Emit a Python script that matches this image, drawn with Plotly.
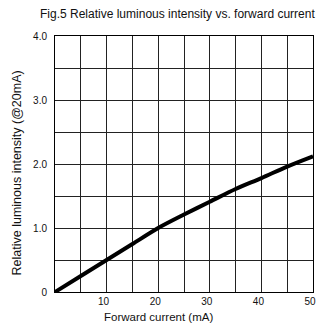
import plotly.graph_objects as go

current_ma = [0, 5, 10, 15, 20, 25, 30, 35, 40, 45, 50]
rel_intensity = [0, 0.25, 0.5, 0.75, 1.0, 1.21, 1.41, 1.61, 1.78, 1.96, 2.12]

x_tickvals = [0, 5, 10, 15, 20, 25, 30, 35, 40, 45, 50]
x_ticktext = ["", "", "10", "", "20", "", "30", "", "40", "", "50"]
y_tickvals = [0, 0.5, 1.0, 1.5, 2.0, 2.5, 3.0, 3.5, 4.0]
y_ticktext = ["0", "", "1.0", "", "2.0", "", "3.0", "", "4.0"]

chart_title = "Fig.5 Relative luminous intensity vs. forward current"
x_title = "Forward current (mA)"
y_title = "Relative luminous intensity (@20mA)"

font_family = "Liberation Sans, Arial, sans-serif"

# plot area in pixels: left 55, right 316, top 36, bottom 292
L, R, T, B = 55, 316, 36, 292
W, H = R - L, B - T

def px(xp):
    return (xp - L) / W

def py(yp):
    return (B - yp) / H

fig = go.Figure()
fig.add_trace(go.Scatter(
    x=current_ma, y=rel_intensity, mode="lines",
    line=dict(color="black", width=4, shape="spline", smoothing=0.8),
    showlegend=False, hoverinfo="skip",
))

fig.update_layout(
    width=320, height=324,
    margin=dict(l=L, r=320 - R, t=T, b=324 - B),
    paper_bgcolor="white", plot_bgcolor="white",
    font=dict(family=font_family, size=10, color="#111"),
    annotations=[
        dict(text=chart_title, x=px(179), y=py(13.5), xref="paper", yref="paper",
             xanchor="center", yanchor="middle", showarrow=False,
             font=dict(family=font_family, size=12, color="#111")),
        dict(text=x_title, x=px(160), y=py(317), xref="paper", yref="paper",
             xanchor="center", yanchor="middle", showarrow=False,
             font=dict(family=font_family, size=11.5, color="#111")),
        dict(text=y_title, x=px(17), y=py(173), xref="paper", yref="paper",
             xanchor="center", yanchor="middle", showarrow=False, textangle=-90,
             font=dict(family=font_family, size=12.5, color="#111")),
    ],
)
fig.update_xaxes(
    range=[0, 50], tickvals=x_tickvals, ticktext=x_ticktext,
    showgrid=True, gridcolor="#222", gridwidth=1,
    showline=True, linecolor="black", linewidth=1, mirror=True,
    zeroline=False, ticks="", ticklabeloverflow="allow", ticklabelshift=-3,
    tickfont=dict(size=10),
)
fig.update_yaxes(
    range=[0, 4], tickvals=y_tickvals, ticktext=y_ticktext,
    showgrid=True, gridcolor="#222", gridwidth=1,
    showline=True, linecolor="black", linewidth=1, mirror=True,
    zeroline=False, ticks="", ticklabelstandoff=5,
    tickfont=dict(size=10),
)

fig.write_html("out.html")
